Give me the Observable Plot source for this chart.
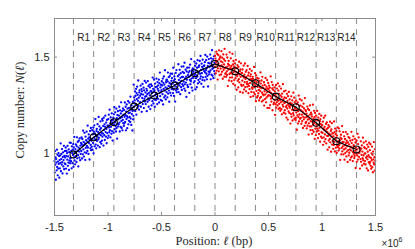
<!DOCTYPE html>
<html><head><meta charset="utf-8">
<script src="https://cdn.jsdelivr.net/npm/d3@7"></script>
<script src="https://cdn.jsdelivr.net/npm/@observablehq/plot@0.6"></script>
<style>html,body{margin:0;padding:0;background:#fff} svg{display:block}</style>
</head><body><div id="chart"></div>
<script>
// Sequencing bins (bp)
const binSize = 2500;
const blueStart = -1500000;
const redStart = 0;

// Copy number per bin, left replichore (blue), one row = 50 kb
const blueCN = [
0.962,0.902,1.013,0.943,0.981,0.865,0.972,0.954,0.914,1.021,0.931,0.995,0.888,0.959,0.923,1.003,0.947,0.988,0.876,0.967,
0.924,0.991,0.952,1.053,0.909,0.972,0.999,0.943,1.024,0.956,0.898,0.983,1.007,0.934,0.967,1.041,0.920,0.988,0.950,1.014,
0.980,0.946,1.032,0.923,0.989,1.014,0.897,1.003,0.969,1.041,0.937,0.986,0.954,1.022,0.916,1.008,0.964,1.057,0.950,0.975,
0.978,1.056,0.961,1.014,0.924,1.038,1.003,0.951,1.021,0.993,1.050,0.932,1.032,0.981,1.087,0.965,1.010,0.945,1.024,0.987,
1.048,1.003,0.957,1.039,1.085,0.976,1.016,1.061,0.992,0.934,1.031,1.067,1.011,0.980,1.079,1.025,0.966,1.042,0.999,1.056,
1.014,1.084,1.049,0.975,1.076,1.039,0.997,1.119,1.022,1.061,0.985,1.046,1.108,1.007,1.053,0.968,1.088,1.030,1.070,1.003,
1.114,1.040,1.063,1.014,1.145,1.032,1.078,0.999,1.100,1.055,1.085,0.970,1.071,1.118,1.028,1.046,1.133,1.018,1.067,1.036,
1.076,1.122,1.021,1.100,1.055,1.136,1.002,1.114,1.083,1.147,1.038,1.105,1.074,1.179,1.047,1.090,1.028,1.117,1.128,1.066,
1.093,1.153,1.042,1.112,1.074,1.190,1.083,1.101,1.141,1.034,1.124,1.060,1.167,1.096,1.132,1.052,1.108,1.067,1.179,1.088,
1.171,1.104,1.143,1.042,1.186,1.123,1.096,1.152,1.071,1.139,1.197,1.112,1.088,1.161,1.128,1.054,1.175,1.107,1.145,1.081,
1.145,1.179,1.093,1.202,1.136,1.111,1.228,1.122,1.156,1.084,1.188,1.139,1.171,1.103,1.209,1.117,1.161,1.068,1.175,1.150,
1.187,1.109,1.204,1.151,1.241,1.127,1.162,1.214,1.144,1.172,1.115,1.233,1.133,1.184,1.078,1.200,1.155,1.220,1.141,1.178,
1.152,1.197,1.243,1.161,1.115,1.224,1.184,1.139,1.208,1.266,1.169,1.133,1.189,1.220,1.121,1.175,1.234,1.158,1.201,1.144,
1.226,1.156,1.191,1.265,1.164,1.201,1.243,1.121,1.218,1.179,1.255,1.194,1.132,1.233,1.187,1.272,1.152,1.210,1.170,1.237,
1.264,1.190,1.213,1.164,1.295,1.182,1.228,1.149,1.250,1.205,1.235,1.120,1.221,1.268,1.178,1.196,1.358,1.243,1.292,1.261,
1.276,1.322,1.221,1.300,1.255,1.336,1.202,1.314,1.283,1.347,1.238,1.305,1.274,1.379,1.247,1.290,1.228,1.317,1.328,1.266,
1.300,1.266,1.352,1.243,1.309,1.334,1.217,1.323,1.289,1.361,1.257,1.306,1.274,1.342,1.236,1.328,1.284,1.377,1.270,1.295,
1.317,1.257,1.368,1.298,1.336,1.220,1.327,1.309,1.269,1.376,1.286,1.350,1.243,1.314,1.278,1.358,1.302,1.343,1.231,1.322,
1.289,1.359,1.324,1.250,1.351,1.314,1.272,1.394,1.297,1.336,1.260,1.321,1.383,1.282,1.328,1.243,1.363,1.305,1.345,1.278,
1.311,1.389,1.294,1.347,1.257,1.371,1.336,1.284,1.354,1.326,1.383,1.265,1.365,1.314,1.420,1.298,1.343,1.278,1.357,1.320,
1.329,1.375,1.274,1.353,1.308,1.389,1.255,1.367,1.336,1.400,1.291,1.358,1.327,1.432,1.300,1.343,1.281,1.370,1.381,1.319,
1.383,1.338,1.292,1.374,1.420,1.311,1.351,1.396,1.327,1.269,1.366,1.402,1.346,1.315,1.414,1.360,1.301,1.377,1.334,1.391,
1.414,1.340,1.363,1.314,1.445,1.332,1.378,1.299,1.400,1.355,1.385,1.270,1.371,1.418,1.328,1.346,1.433,1.318,1.367,1.336,
1.334,1.401,1.362,1.463,1.319,1.382,1.409,1.353,1.434,1.366,1.308,1.393,1.417,1.344,1.377,1.451,1.330,1.398,1.360,1.424,
1.397,1.351,1.452,1.373,1.418,1.337,1.471,1.359,1.390,1.326,1.435,1.368,1.399,1.294,1.426,1.383,1.445,1.356,1.345,1.407,
1.346,1.420,1.397,1.446,1.315,1.428,1.382,1.461,1.360,1.405,1.375,1.490,1.389,1.342,1.432,1.414,1.327,1.442,1.393,1.424,
1.438,1.368,1.403,1.477,1.376,1.413,1.455,1.333,1.430,1.391,1.467,1.406,1.344,1.445,1.399,1.484,1.364,1.422,1.382,1.449,
1.423,1.457,1.371,1.480,1.414,1.389,1.506,1.400,1.434,1.362,1.466,1.417,1.449,1.381,1.487,1.395,1.439,1.346,1.453,1.428,
1.457,1.379,1.474,1.421,1.511,1.397,1.432,1.484,1.414,1.442,1.385,1.503,1.403,1.454,1.348,1.470,1.425,1.490,1.411,1.448,
1.422,1.467,1.513,1.431,1.385,1.494,1.454,1.409,1.478,1.536,1.439,1.403,1.459,1.490,1.391,1.445,1.504,1.428,1.471,1.414
];

// Copy number per bin, right replichore (red), one row = 50 kb
const redCN = [
1.506,1.449,1.492,1.416,1.475,1.529,1.430,1.461,1.517,1.481,1.384,1.442,1.511,1.466,1.426,1.535,1.489,1.407,1.453,1.498,
1.504,1.440,1.478,1.410,1.531,1.457,1.424,1.497,1.473,1.388,1.446,1.514,1.433,1.489,1.462,1.399,1.543,1.442,1.481,1.414,
1.416,1.447,1.398,1.513,1.426,1.408,1.498,1.451,1.350,1.465,1.435,1.480,1.379,1.458,1.412,1.525,1.394,1.443,1.420,1.494,
1.417,1.454,1.375,1.440,1.395,1.517,1.411,1.462,1.362,1.480,1.423,1.451,1.381,1.433,1.468,1.354,1.444,1.391,1.486,1.408,
1.422,1.331,1.443,1.402,1.458,1.378,1.414,1.343,1.450,1.386,1.476,1.369,1.409,1.427,1.320,1.436,1.398,1.468,1.357,1.417,
1.351,1.418,1.378,1.436,1.316,1.401,1.355,1.456,1.394,1.333,1.409,1.370,1.467,1.345,1.387,1.424,1.323,1.397,1.432,1.362,
1.372,1.347,1.454,1.361,1.405,1.313,1.419,1.351,1.383,1.334,1.438,1.366,1.400,1.294,1.411,1.386,1.320,1.429,1.343,1.377,
1.336,1.398,1.387,1.298,1.360,1.317,1.449,1.344,1.375,1.308,1.417,1.353,1.384,1.272,1.406,1.325,1.370,1.291,1.392,1.346,
1.299,1.356,1.313,1.389,1.330,1.276,1.375,1.344,1.288,1.324,1.421,1.363,1.294,1.339,1.379,1.270,1.316,1.398,1.352,1.307,
1.276,1.340,1.302,1.370,1.249,1.323,1.356,1.283,1.307,1.392,1.334,1.266,1.347,1.291,1.318,1.381,1.237,1.338,1.299,1.366,
1.334,1.303,1.352,1.237,1.324,1.342,1.252,1.299,1.400,1.285,1.315,1.270,1.371,1.292,1.338,1.225,1.356,1.307,1.330,1.256,
1.301,1.264,1.343,1.278,1.323,1.201,1.307,1.256,1.356,1.238,1.295,1.267,1.337,1.285,1.250,1.364,1.274,1.327,1.232,1.310,
1.258,1.349,1.237,1.278,1.222,1.302,1.266,1.337,1.230,1.294,1.204,1.311,1.271,1.253,1.360,1.244,1.282,1.212,1.323,1.263,
1.292,1.225,1.265,1.207,1.327,1.242,1.288,1.187,1.249,1.310,1.234,1.273,1.176,1.298,1.256,1.219,1.320,1.246,1.211,1.281,
1.238,1.263,1.156,1.249,1.205,1.297,1.191,1.259,1.227,1.276,1.172,1.244,1.210,1.316,1.199,1.224,1.290,1.181,1.267,1.233,
1.237,1.175,1.186,1.275,1.213,1.256,1.124,1.229,1.198,1.265,1.156,1.220,1.189,1.301,1.167,1.248,1.203,1.282,1.181,1.227,
1.249,1.185,1.223,1.155,1.276,1.202,1.169,1.242,1.218,1.133,1.191,1.259,1.178,1.234,1.207,1.144,1.288,1.187,1.226,1.159,
1.221,1.164,1.207,1.131,1.190,1.244,1.145,1.176,1.232,1.196,1.099,1.157,1.226,1.181,1.141,1.250,1.204,1.122,1.168,1.213,
1.141,1.203,1.192,1.103,1.165,1.122,1.254,1.149,1.180,1.113,1.222,1.158,1.189,1.077,1.211,1.130,1.175,1.096,1.197,1.151,
1.140,1.115,1.222,1.129,1.173,1.081,1.187,1.119,1.151,1.102,1.206,1.134,1.168,1.062,1.179,1.154,1.088,1.197,1.111,1.145,
1.081,1.148,1.108,1.166,1.046,1.131,1.085,1.186,1.124,1.063,1.139,1.100,1.197,1.075,1.117,1.154,1.053,1.127,1.162,1.092,
1.112,1.021,1.133,1.092,1.148,1.068,1.104,1.033,1.140,1.076,1.166,1.059,1.099,1.117,1.010,1.126,1.088,1.158,1.047,1.107,
1.067,1.104,1.025,1.090,1.045,1.167,1.061,1.112,1.012,1.130,1.073,1.101,1.031,1.083,1.118,1.004,1.094,1.041,1.136,1.058,
1.034,1.065,1.016,1.131,1.044,1.026,1.116,1.069,0.968,1.083,1.053,1.098,0.997,1.076,1.030,1.143,1.012,1.061,1.038,1.112,
0.996,1.060,1.022,1.090,0.969,1.043,1.076,1.003,1.027,1.112,1.054,0.986,1.067,1.011,1.038,1.101,0.957,1.058,1.019,1.086,
0.991,1.048,1.005,1.081,1.022,0.968,1.067,1.036,0.980,1.016,1.113,1.055,0.986,1.031,1.071,0.962,1.008,1.090,1.044,0.999,
1.039,0.977,0.988,1.077,1.015,1.058,0.926,1.031,1.000,1.067,0.958,1.022,0.991,1.103,0.969,1.050,1.005,1.084,0.983,1.029,
1.005,1.030,0.923,1.016,0.972,1.064,0.958,1.026,0.994,1.043,0.939,1.011,0.977,1.083,0.966,0.991,1.057,0.948,1.034,1.000,
1.029,0.962,1.002,0.944,1.064,0.979,1.025,0.924,0.986,1.047,0.971,1.010,0.913,1.035,0.993,0.956,1.057,0.983,0.948,1.018,
0.958,1.049,0.937,0.978,0.922,1.002,0.966,1.037,0.930,0.994,0.904,1.011,0.971,0.953,1.060,0.944,0.982,0.912,1.023,0.963
];

// Region boundaries (bp) and mean copy number at each boundary
const boundaries = [-1323000,-1134000,-945000,-756000,-567000,-378000,-189000,0,189000,378000,567000,756000,945000,1134000,1323000];
const boundaryCN = [0.996,1.085,1.163,1.244,1.301,1.353,1.417,1.465,1.427,1.365,1.296,1.241,1.160,1.065,1.022];
const regionLabels = ["R1","R2","R3","R4","R5","R6","R7","R8","R9","R10","R11","R12","R13","R14"];

const xTicks = [-1500000,-1000000,-500000,0,500000,1000000,1500000];
const xTickLabels = ["-1.5","-1","-0.5","0","0.5","1","1.5"];
const yTicks = [1, 1.5];
const yTickLabels = ["1","1.5"];

const bluePts = blueCN.map((v, i) => ({x: blueStart + i * binSize, y: v}));
const redPts = redCN.map((v, i) => ({x: redStart + i * binSize, y: v}));
const boundaryPts = boundaries.map((b, i) => ({x: b, y: boundaryCN[i]}));
const regionPts = regionLabels.map((r, i) => ({label: r, x: (boundaries[i] + boundaries[i + 1]) / 2}));

const axisColor = "#8c8c8c";
const textColor = "#262626";

const plot = Plot.plot({
  width: 415,
  height: 249,
  marginLeft: 54,
  marginRight: 40,
  marginTop: 18,
  marginBottom: 34,
  x: {domain: [-1500000, 1500000]},
  y: {domain: [0.68, 1.70]},
  style: {fontFamily: "Liberation Sans, Arial, sans-serif", fontSize: "11px", color: textColor, background: "#fff"},
  marks: [
    Plot.ruleX(boundaries, {stroke: "#8a8a8a", strokeWidth: 1, strokeDasharray: "6,5"}),
    Plot.dot(bluePts, {x: "x", y: "y", r: 1.15, fill: "#0000ff"}),
    Plot.dot(redPts, {x: "x", y: "y", r: 1.15, fill: "#ff0000"}),
    Plot.line(boundaryPts, {x: "x", y: "y", stroke: "#000", strokeWidth: 1.2}),
    Plot.dot(boundaryPts, {x: "x", y: "y", r: 3.4, stroke: "#000", fill: "none", strokeWidth: 1.1}),
    Plot.text(regionPts, {x: "x", text: "label", frameAnchor: "top", dy: 15, fontSize: 10, fill: textColor}),
    Plot.frame({stroke: axisColor, strokeWidth: 1}),
    Plot.tickX(xTicks, {x: d => d, stroke: axisColor, insetTop: 194}),
    Plot.tickX(xTicks, {x: d => d, stroke: axisColor, insetBottom: 194}),
    Plot.tickY(yTicks, {y: d => d, stroke: axisColor, insetLeft: 318}),
    Plot.tickY(yTicks, {y: d => d, stroke: axisColor, insetRight: 318}),
    Plot.axisX(xTicks, {anchor: "bottom", tickSize: 0, tickPadding: 8, tickFormat: d => xTickLabels[xTicks.indexOf(d)], label: null, fill: textColor}),
    Plot.axisY(yTicks, {anchor: "left", tickSize: 0, tickPadding: 5, tickFormat: d => yTickLabels[yTicks.indexOf(d)], label: null, fill: textColor})
  ]
});

const svg = d3.select(plot);
const serif = "Liberation Serif, Times New Roman, serif";

const xl = svg.append("text")
  .attr("x", 214).attr("y", 245)
  .attr("text-anchor", "middle")
  .attr("font-family", serif).attr("font-size", 12.5).attr("fill", textColor);
xl.append("tspan").text("Position: ");
xl.append("tspan").attr("font-style", "italic").text("ℓ");
xl.append("tspan").text(" (bp)");

const yl = svg.append("text")
  .attr("transform", "translate(24,110) rotate(-90)")
  .attr("text-anchor", "middle")
  .attr("font-family", serif).attr("font-size", 12.5).attr("fill", textColor);
yl.append("tspan").text("Copy number: ");
yl.append("tspan").attr("font-style", "italic").text("N");
yl.append("tspan").text("(");
yl.append("tspan").attr("font-style", "italic").text("ℓ");
yl.append("tspan").text(")");

const ex = svg.append("text")
  .attr("x", 392).attr("y", 247)
  .attr("font-family", "Liberation Sans, Arial, sans-serif").attr("font-size", 10).attr("fill", textColor);
ex.append("tspan").text("×10");
ex.append("tspan").attr("dy", -5).attr("font-size", 7).text("6");

document.getElementById("chart").appendChild(plot);
</script>
</body></html>
